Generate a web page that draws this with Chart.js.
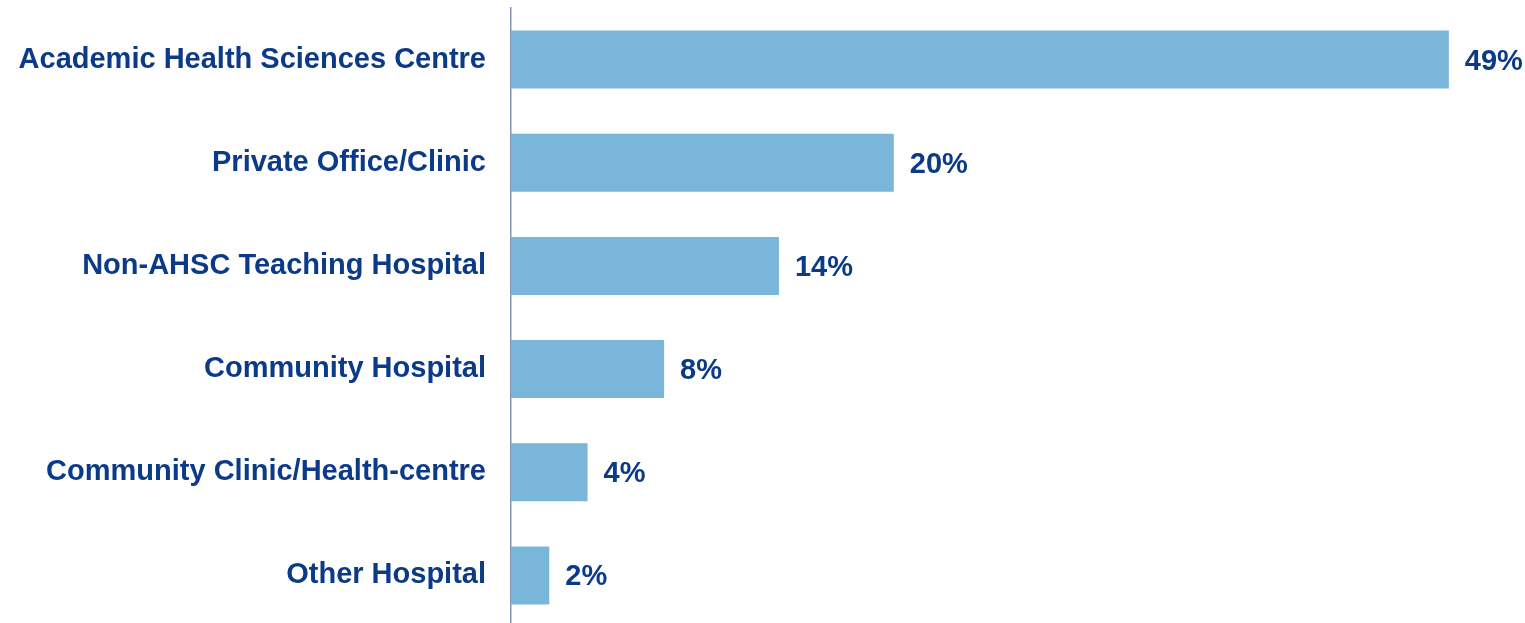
<!DOCTYPE html>
<html>
<head>
<meta charset="utf-8">
<script src="https://cdn.jsdelivr.net/npm/chart.js@4/dist/chart.umd.min.js"></script>
<style>
    html, body { margin: 0; padding: 0; background: #fff; overflow: hidden; }
    #wrap { position: relative; width: 1525px; height: 630px; }
</style>
</head>
<body>
<div id="wrap"><canvas id="settingChart"></canvas></div>
<script>
// Practice setting breakdown (%)
const settings = [
    'Academic Health Sciences Centre',
    'Private Office/Clinic',
    'Non-AHSC Teaching Hospital',
    'Community Hospital',
    'Community Clinic/Health-centre',
    'Other Hospital'
];
const shares = [49, 20, 14, 8, 4, 2];

const TEXT_COLOR = '#0b3a88';
const BAR_COLOR = '#79b6d9';
const LABEL_FONT = { family: '"Liberation Sans", Arial, sans-serif', size: 29, weight: 'bold' };

// Draws the "NN%" label just past the end of each bar
const valueLabels = {
    id: 'valueLabels',
    afterDatasetsDraw(chart) {
        const ctx = chart.ctx;
        const meta = chart.getDatasetMeta(0);
        ctx.save();
        ctx.font = `${LABEL_FONT.weight} ${LABEL_FONT.size}px ${LABEL_FONT.family}`;
        ctx.fillStyle = TEXT_COLOR;
        ctx.textAlign = 'left';
        ctx.textBaseline = 'middle';
        meta.data.forEach((bar, i) => {
            ctx.fillText(shares[i] + '%', bar.x + 16, bar.y + 2);
        });
        ctx.restore();
    }
};

const ctx = document.getElementById('settingChart').getContext('2d');

new Chart(ctx, {
    type: 'bar',
    data: {
        labels: settings,
        datasets: [{
            data: shares,
            backgroundColor: BAR_COLOR,
            borderWidth: 0,
            barPercentage: 0.563,
            categoryPercentage: 1
        }]
    },
    options: {
        indexAxis: 'y',
        responsive: true,
        maintainAspectRatio: false,
        animation: false,
        layout: {
            padding: { top: 8, right: 57, bottom: 3, left: 0 }
        },
        plugins: {
            legend: { display: false },
            tooltip: { enabled: false }
        },
        scales: {
            x: {
                display: false,
                min: 0,
                max: 50
            },
            y: {
                afterFit: function(scale) {
                    scale.width = 511;
                    scale.paddingTop = 0;
                    scale.paddingBottom = 0;
                },
                grid: { display: false, drawTicks: false },
                border: { display: true, color: '#8a93ad', width: 1.5 },
                ticks: {
                    color: TEXT_COLOR,
                    font: LABEL_FONT,
                    padding: 25
                }
            }
        }
    },
    plugins: [valueLabels]
});
</script>
</body>
</html>
